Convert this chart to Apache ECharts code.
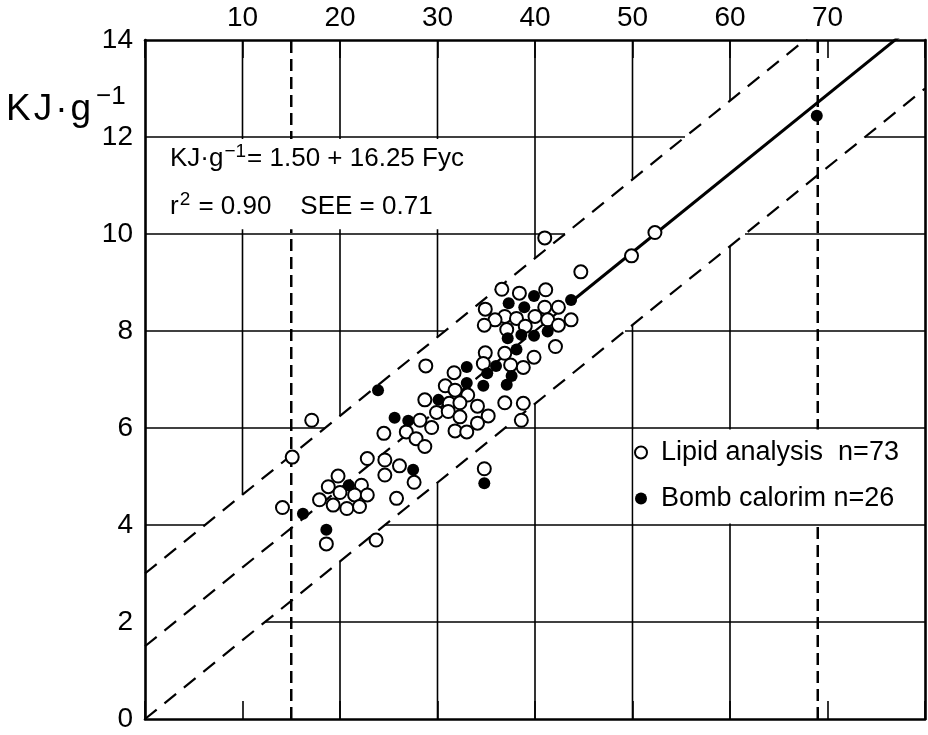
<!DOCTYPE html>
<html>
<head>
<meta charset="utf-8">
<script src="https://cdn.jsdelivr.net/npm/echarts@6/dist/echarts.min.js"></script>
<style>
  html, body { margin: 0; padding: 0; background: #fff; }
  #chart { width: 928px; height: 735px; }
</style>
</head>
<body>
<div id="chart"></div>
<script>
// x = Fyc (%), y = KJ·g-1
var xMin = 0, xMax = 80, xStep = 10;
var yMin = 0, yMax = 14, yStep = 2;
var gridX = [10, 20, 30, 40, 50, 60];   // no full line at 70 in the original
var gridY = [2, 4, 6, 8, 10, 12];
var noLowerGrid = [10];                  // x = 10 has only a tick below the band

// open circles: lipid analysis
var lipidData = [
  [41.0, 9.92], [49.9, 9.55], [44.7, 9.22], [52.3, 10.03],
  [36.6, 8.86], [38.4, 8.78], [41.1, 8.85], [34.9, 8.45], [41.0, 8.49], [42.4, 8.49],
  [36.9, 8.30], [38.1, 8.26], [40.0, 8.30], [41.3, 8.23], [43.7, 8.23], [35.9, 8.23],
  [34.8, 8.12], [37.1, 8.03], [39.0, 8.10], [42.4, 8.12], [42.1, 7.68],
  [34.9, 7.55], [36.9, 7.54], [39.9, 7.46], [34.7, 7.33], [37.5, 7.30], [38.8, 7.25],
  [31.7, 7.14], [30.8, 6.87], [31.8, 6.78], [33.1, 6.68], [28.7, 6.58], [31.2, 6.51],
  [32.3, 6.52], [34.1, 6.45], [36.9, 6.52], [38.8, 6.51], [29.9, 6.32], [31.1, 6.34],
  [32.3, 6.23], [35.2, 6.25], [38.6, 6.16], [29.4, 6.01], [34.1, 6.10], [31.8, 5.94],
  [33.0, 5.92], [28.2, 6.16], [26.8, 5.92], [24.5, 5.89], [27.8, 5.78], [28.7, 5.62],
  [28.8, 7.28], [17.1, 6.16], [15.1, 5.40],
  [22.8, 5.37], [24.6, 5.34], [26.1, 5.22], [24.6, 5.03], [27.6, 4.88], [19.8, 5.01],
  [18.8, 4.79], [22.2, 4.82], [20.0, 4.67], [21.5, 4.62], [22.8, 4.62], [17.9, 4.52],
  [19.3, 4.41], [20.7, 4.34], [22.0, 4.38], [25.8, 4.55], [14.1, 4.36], [34.8, 5.16],
  [18.6, 3.61], [23.7, 3.69]
];

// filled circles: bomb calorimetry
var bombData = [
  [39.9, 8.72], [43.7, 8.64], [37.3, 8.57], [38.9, 8.49], [38.6, 7.92], [39.9, 7.90],
  [41.3, 7.99], [37.2, 7.85], [38.1, 7.62], [36.0, 7.28], [33.0, 7.26], [35.1, 7.13],
  [37.6, 7.07], [33.0, 6.93], [34.7, 6.87], [37.1, 6.89], [30.1, 6.58], [25.6, 6.21],
  [27.0, 6.15], [23.9, 6.78], [27.5, 5.14], [20.9, 4.82], [16.2, 4.23], [34.8, 4.86],
  [18.6, 3.90], [68.9, 12.44]
];

// KJ·g-1 = 1.50 + 16.25 Fyc, band = +/- 1.5
var fitLine = [[0, 1.5], [44, 8.65], [80, 14.5]];
var upperLine = [[0, 3.0], [80, 16.0]];
var lowerLine = [[0, 0.0], [80, 13.0]];
var rangeLines = [15, 69];

var FONT = '"Liberation Sans", Arial, sans-serif';

function yOn(line, x) {
  return line[0][1] + (line[1][1] - line[0][1]) * (x - line[0][0]) / (line[1][0] - line[0][0]);
}
function xOn(line, y) {
  return line[0][0] + (y - line[0][1]) * (line[1][0] - line[0][0]) / (line[1][1] - line[0][1]);
}

// grid segments, left open inside the band like the original
var gridSegs = [];
gridX.forEach(function (x) {
  var lo = yOn(lowerLine, x), hi = yOn(upperLine, x);
  if (lo > yMin && noLowerGrid.indexOf(x) < 0) gridSegs.push([x, yMin, x, Math.min(lo, yMax)]);
  if (hi < yMax) gridSegs.push([x, Math.max(hi, yMin), x, yMax]);
});
gridY.forEach(function (y) {
  var xu = xOn(upperLine, y), xl = xOn(lowerLine, y);
  if (xu > xMin) gridSegs.push([xMin, y, Math.min(xu, xMax), y]);
  if (xl < xMax) gridSegs.push([Math.max(xl, xMin), y, xMax, y]);
});

var chart = echarts.init(document.getElementById('chart'));

function rectItem(params, api) {
  var p0 = api.coord([api.value(0), api.value(1)]);
  var p1 = api.coord([api.value(2), api.value(3)]);
  return {
    type: 'rect',
    shape: { x: p0[0], y: p1[1], width: p1[0] - p0[0], height: p0[1] - p1[1] },
    style: { fill: '#fff' }
  };
}

var series = [
  {
    // grid lines
    type: 'custom', z: 10, silent: true,
    data: gridSegs,
    renderItem: function (params, api) {
      var a = api.coord([api.value(0), api.value(1)]);
      var b = api.coord([api.value(2), api.value(3)]);
      return {
        type: 'line',
        shape: { x1: a[0], y1: a[1], x2: b[0], y2: b[1] },
        style: { stroke: '#000', lineWidth: 1.6 }
      };
    }
  },
  {
    // boxes behind equation and legend
    type: 'custom', z: 24, silent: true,
    data: [[0.2, 10.1, 34, 11.96], [50.12, 4.03, 79.8, 5.97]],
    renderItem: rectItem
  }
];

rangeLines.forEach(function (v) {
  series.push({
    type: 'line', z: 22, silent: true, symbol: 'none',
    data: [[v, yMin], [v, yMax]],
    lineStyle: { color: '#000', width: 2.5, type: [12, 6] }
  });
});

[upperLine, lowerLine].forEach(function (d) {
  series.push({
    type: 'line', z: 22, silent: true, symbol: 'none',
    data: d,
    lineStyle: { color: '#000', width: 2.2, type: [15, 10] }
  });
});

series.push({
  type: 'line', z: 22, silent: true, symbol: 'none',
  data: fitLine.slice(0, 2),
  lineStyle: { color: '#000', width: 2.2, type: [15, 10] }
});
series.push({
  type: 'line', z: 22, silent: true, symbol: 'none',
  data: fitLine.slice(1),
  lineStyle: { color: '#000', width: 3, type: 'solid' }
});

series.push({
  name: 'Lipid analysis  n=73',
  type: 'scatter', z: 26,
  symbol: 'circle', symbolSize: 13,
  data: lipidData,
  itemStyle: { color: '#fff', borderColor: '#000', borderWidth: 2, opacity: 1 }
});
series.push({
  name: 'Bomb calorim n=26',
  type: 'scatter', z: 27,
  symbol: 'circle', symbolSize: 12,
  data: bombData,
  itemStyle: { color: '#000', borderColor: '#000', borderWidth: 0, opacity: 1 }
});

function xAx(extra) {
  return Object.assign({
    type: 'value', min: xMin, max: xMax, interval: xStep,
    axisLine: { show: false, onZero: false },
    axisTick: { show: false },
    axisLabel: { show: false },
    splitLine: { show: false }
  }, extra);
}
function yAx(extra) {
  return Object.assign({
    type: 'value', min: yMin, max: yMax, interval: yStep,
    axisLine: { show: false, onZero: false },
    axisTick: { show: false },
    axisLabel: { show: false },
    splitLine: { show: false }
  }, extra);
}

var frameLine = { show: true, onZero: false, lineStyle: { color: '#000', width: 2.6 } };
var innerTick = { show: true, inside: true, length: 18, lineStyle: { color: '#000', width: 1.6 } };

var rich1 = {
  a: { fontSize: 37, fontWeight: 'normal', fontFamily: FONT, color: '#000', lineHeight: 44, verticalAlign: 'bottom', padding: [0, 3, 0, 0] },
  b: { fontSize: 26, fontWeight: 'normal', fontFamily: FONT, color: '#000', lineHeight: 22, verticalAlign: 'top', padding: [0, 0, 0, 2] }
};
var rich2 = {
  a: { fontSize: 26, fontWeight: 'normal', fontFamily: FONT, color: '#000', lineHeight: 30, verticalAlign: 'bottom' },
  b: { fontSize: 19, fontWeight: 'normal', fontFamily: FONT, color: '#000', lineHeight: 16, verticalAlign: 'top', padding: [0, 1, 0, 1] }
};

var option = {
  animation: false,
  backgroundColor: '#fff',
  title: [
    { text: '{a|K}{a|J}{a|·}{a|g}{b|−1}', left: 6, top: 84, padding: 0, z: 50, textStyle: { fontWeight: 'normal', rich: rich1 } },
    { text: '{a|KJ·g}{b|−1}{a|= 1.50 + 16.25 Fyc}', left: 170, top: 142, padding: 0, z: 50, textStyle: { fontWeight: 'normal', rich: rich2 } },
    { text: '{a|r}{b|2}{a| = 0.90    SEE = 0.71}', left: 170, top: 190, padding: 0, z: 50, textStyle: { fontWeight: 'normal', rich: rich2 } }
  ],
  legend: {
    data: ['Lipid analysis  n=73', 'Bomb calorim n=26'],
    orient: 'vertical',
    left: 634, top: 439,
    padding: 0,
    itemGap: 19,
    itemWidth: 30, itemHeight: 12,
    icon: 'circle',
    selectedMode: false,
    z: 50,
    textStyle: { fontSize: 27, fontFamily: FONT, color: '#000' }
  },
  grid: { left: 145, right: 3, top: 40, bottom: 16, containLabel: false },
  xAxis: [
    xAx({ position: 'bottom', z: 0 }),
    xAx({
      position: 'top', z: 40, axisLine: frameLine, axisTick: innerTick,
      axisLabel: {
        show: true, margin: 8, fontSize: 28, fontFamily: FONT, color: '#000',
        formatter: function (v) { return (v === xMin || v === xMax) ? '' : String(v); }
      }
    }),
    xAx({ position: 'bottom', z: 40, axisLine: frameLine, axisTick: innerTick })
  ],
  yAxis: [
    yAx({ position: 'left', z: 0 }),
    yAx({
      position: 'left', z: 40, axisLine: frameLine,
      axisLabel: { show: true, margin: 12, fontSize: 28, fontFamily: FONT, color: '#000' }
    }),
    yAx({ position: 'right', z: 40, axisLine: frameLine })
  ],
  series: series
};

chart.setOption(option);
</script>
</body>
</html>
